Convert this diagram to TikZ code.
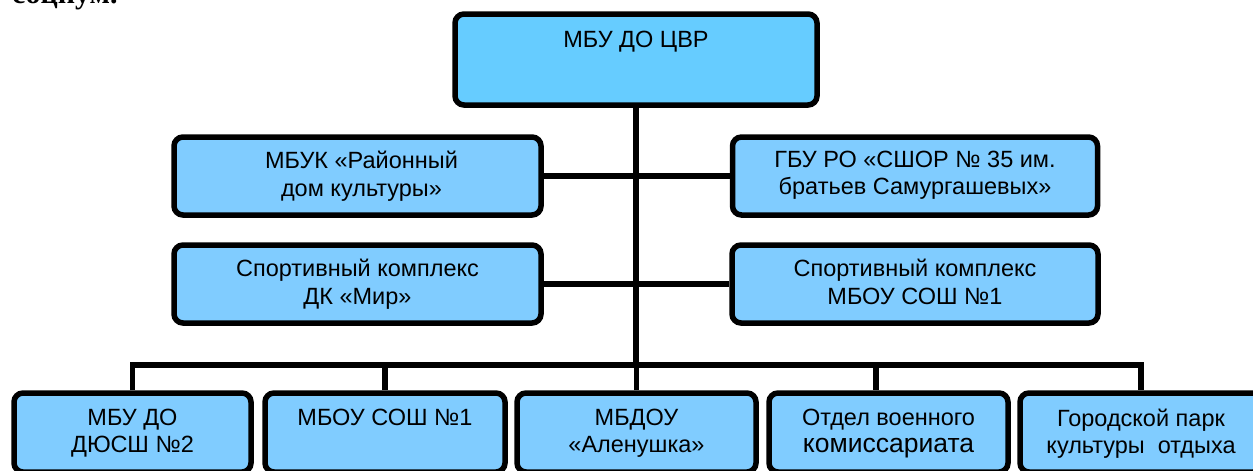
\documentclass[tikz,border=0pt]{standalone}
\usepackage{fontspec}
\setmainfont{Liberation Sans}
\newfontfamily\serifcut{Liberation Serif}
\definecolor{topblue}{RGB}{102,204,255}
\definecolor{boxblue}{RGB}{128,204,255}
\tikzset{
  orgbox/.style={draw=black, line width=5.5pt, rounded corners=9pt, fill=boxblue, inner sep=0pt},
  orgtext/.style={anchor=north, inner sep=0pt, align=center, font=\fontsize{23.5}{27.5}\selectfont},
  link/.style={draw=black, line width=5.5pt},
}
\begin{document}
\begin{tikzpicture}[x=1pt, y=-1pt]
\path[use as bounding box, clip] (0,0) rectangle (1253,471);
\fill[white] (0,0) rectangle (1253,471);
\node[anchor=base west, inner sep=0pt, font=\serifcut\bfseries\fontsize{30}{32}\selectfont] (soc) at (12,4) {социум.};
% boxes
\node[orgbox, fill=topblue, minimum width=362pt, minimum height=91pt] (top) at (636,59.5) {};
\node[orgbox, minimum width=367pt, minimum height=78pt] (r1L) at (357.5,176) {};
\node[orgbox, minimum width=365pt, minimum height=78pt] (r1R) at (915,176) {};
\node[orgbox, minimum width=367pt, minimum height=78pt] (r2L) at (357.5,284) {};
\node[orgbox, minimum width=366pt, minimum height=78pt] (r2R) at (915,284) {};
\node[orgbox, minimum width=237pt, minimum height=79pt] (b1) at (132.5,432.5) {};
\node[orgbox, minimum width=240pt, minimum height=79pt] (b2) at (385,432.5) {};
\node[orgbox, minimum width=239pt, minimum height=79pt] (b3) at (636.5,432.5) {};
\node[orgbox, minimum width=239pt, minimum height=79pt] (b4) at (888.5,432.5) {};
\node[orgbox, minimum width=242pt, minimum height=79pt] (b5) at (1141,432.5) {};
% texts
\node[orgtext] (topt) at ([yshift=-19.5pt]top.north) {МБУ ДО ЦВР};
\node[orgtext] (r1Lt) at ([xshift=4pt,yshift=-17pt]r1L.north) {МБУК «Районный\\дом культуры»};
\node[orgtext] (r1Rt) at ([yshift=-16.5pt]r1R.north) {ГБУ РО «СШОР № 35 им.\\братьев Самургашевых»};
\node[orgtext] (r2Lt) at ([yshift=-17pt]r2L.north) {Спортивный комплекс\\ДК «Мир»};
\node[orgtext] (r2Rt) at ([yshift=-17pt]r2R.north) {Спортивный комплекс\\МБОУ СОШ №1};
\node[orgtext] (b1t) at ([yshift=-18.5pt]b1.north) {МБУ ДО\\ДЮСШ №2};
\node[orgtext] (b2t) at ([yshift=-18.5pt]b2.north) {МБОУ СОШ №1};
\node[orgtext] (b3t) at ([yshift=-18.5pt]b3.north) {МБДОУ\\«Аленушка»};
\node[orgtext] (b4t) at ([yshift=-18.5pt]b4.north) {Отдел военного\\{\fontsize{26.5}{27.5}\selectfont комиссариата}};
\node[orgtext] (b5t) at ([yshift=-18.5pt]b5.north) {Городской парк\\культуры\ \ отдыха};
% connectors
\coordinate (busL) at (132.5,365);
\coordinate (busR) at (1141,365);
\coordinate (d4) at (876,365);
\path[link] (top.south) -- (top.south |- busL);
\path[link] (r1L.east) -- (r1R.west);
\path[link] (r2L.east) -- (r2R.west);
\path[link] (b1.north) -- (busL) -- (busR) -- (b5.north);
\path[link] (b2.north) -- (b2.north |- busL);
\path[link] (b3.north) -- (b3.north |- busL);
\path[link] (d4) -- (d4 |- b4.north);
\end{tikzpicture}
\end{document}
